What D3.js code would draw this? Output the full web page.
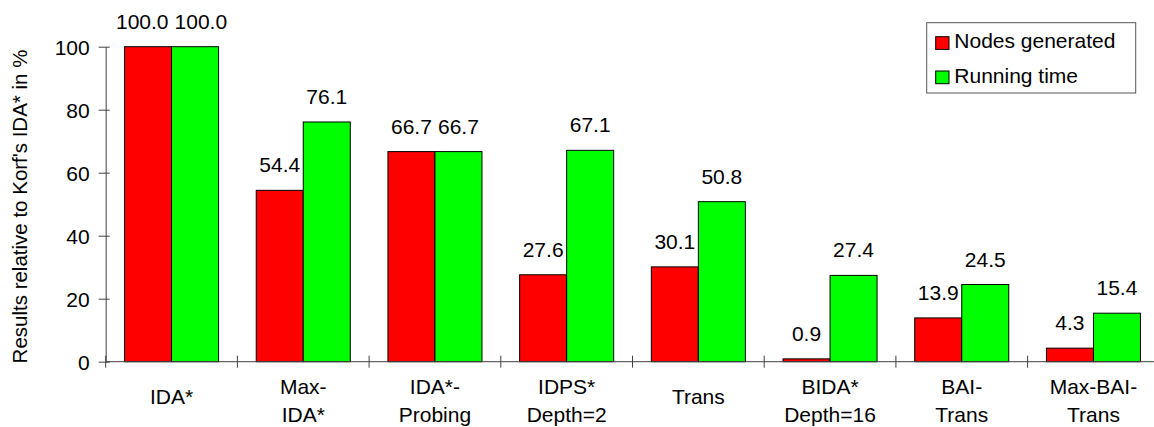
<!DOCTYPE html>
<html>
<head>
<meta charset="utf-8">
<script src="https://cdn.jsdelivr.net/npm/d3@7"></script>
<style>
  body { margin: 0; background: #fff; }
  svg { display: block; font-family: "Liberation Sans", Arial, sans-serif; }
</style>
</head>
<body>
<div id="chart"></div>
<script>
// categories (lines split on "|")
const categories = ["IDA*", "Max-|IDA*", "IDA*-|Probing", "IDPS*|Depth=2", "Trans", "BIDA*|Depth=16", "BAI-|Trans", "Max-BAI-|Trans"];
const nodesGenerated = [100.0, 54.4, 66.7, 27.6, 30.1, 0.9, 13.9, 4.3];
const runningTime = [100.0, 76.1, 66.7, 67.1, 50.8, 27.4, 24.5, 15.4];
const seriesNames = ["Nodes generated", "Running time"];
const seriesColors = ["#ff0000", "#00ff00"];
const yTicks = [0, 20, 40, 60, 80, 100];

const width = 1154, height = 427;
const x0 = 105.7, x1 = 1159.3, yBottom = 361.7, yTop = 46.7;
const fs = 21;

const svg = d3.select("#chart").append("svg")
  .attr("width", width)
  .attr("height", height);

const pad = 0.286;
const x = d3.scaleBand()
  .domain(categories)
  .range([x0, x1])
  .paddingInner(pad)
  .paddingOuter(pad / 2);

const xs = d3.scaleBand()
  .domain(seriesNames)
  .range([0, x.bandwidth()]);

const y = d3.scaleLinear()
  .domain([0, 100])
  .range([yBottom, yTop]);

const rows = categories.map((c, i) => ({
  cat: c,
  vals: [nodesGenerated[i], runningTime[i]]
}));

// bars
const groups = svg.append("g").selectAll("g")
  .data(rows)
  .join("g")
  .attr("transform", d => `translate(${x(d.cat)},0)`);

groups.selectAll("rect")
  .data(d => d.vals.map((v, j) => ({ v, j })))
  .join("rect")
  .attr("x", d => xs(seriesNames[d.j]))
  .attr("y", d => y(d.v))
  .attr("width", xs.bandwidth())
  .attr("height", d => y(0) - y(d.v))
  .attr("fill", d => seriesColors[d.j])
  .attr("stroke", "#000")
  .attr("stroke-width", 1);

groups.each(function(d) {
  const g = d3.select(this);
  const t = g.selectAll("text.val")
    .data(d.vals.map((v, j) => ({ v, j })))
    .join("text")
    .attr("class", "val")
    .attr("x", e => xs(seriesNames[e.j]) + xs.bandwidth() / 2)
    .attr("y", e => y(e.v) - 18)
    .attr("text-anchor", "middle")
    .attr("font-size", fs)
    .text(e => e.v.toFixed(1));
  // push apart labels that sit at the same height and collide
  const nodes = t.nodes();
  if (Math.abs(d.vals[0] - d.vals[1]) < 8) {
    const w0 = nodes[0].getComputedTextLength(), w1 = nodes[1].getComputedTextLength();
    const c0 = xs(seriesNames[0]) + xs.bandwidth() / 2, c1 = xs(seriesNames[1]) + xs.bandwidth() / 2;
    const overlap = (w0 + w1) / 2 + 6 - (c1 - c0);
    if (overlap > 0) {
      d3.select(nodes[0]).attr("x", c0 - overlap / 2);
      d3.select(nodes[1]).attr("x", c1 + overlap / 2);
    }
  }
});

// y axis
const yAxis = svg.append("g")
  .attr("transform", `translate(${x0},0)`)
  .call(d3.axisLeft(y).tickValues(yTicks).tickSize(0).tickPadding(16));
yAxis.select(".domain").attr("stroke", "#404040");
yAxis.selectAll(".tick line").attr("x1", -7).attr("x2", 4).attr("stroke", "#404040");
yAxis.selectAll(".tick text")
  .attr("font-size", fs)
  .attr("font-family", "Liberation Sans, Arial, sans-serif")
  .attr("fill", "#000")
  .attr("dy", "0.36em");

// x axis with boundary ticks
const step = x.step();
const bounds = categories.map(c => x(c) - step * x.paddingOuter()).concat([x1]);
const xAxis = svg.append("g");
xAxis.append("line")
  .attr("x1", x0).attr("x2", x1)
  .attr("y1", yBottom).attr("y2", yBottom)
  .attr("stroke", "#404040");
xAxis.selectAll("line.tk")
  .data(bounds)
  .join("line")
  .attr("class", "tk")
  .attr("x1", d => d).attr("x2", d => d)
  .attr("y1", yBottom - 6).attr("y2", yBottom + 6)
  .attr("stroke", "#404040");

const labels = svg.append("g").selectAll("text")
  .data(categories)
  .join("text")
  .attr("x", c => x(c) + x.bandwidth() / 2)
  .attr("text-anchor", "middle")
  .attr("font-size", fs);
labels.each(function(c) {
  const parts = c.split("|");
  const t = d3.select(this);
  const base = parts.length === 1 ? 404 : 394;
  parts.forEach((p, i) => {
    t.append("tspan")
      .attr("x", x(c) + x.bandwidth() / 2)
      .attr("y", base + i * 28)
      .text(p);
  });
});

// y label
svg.append("text")
  .attr("transform", `translate(27,206.5) rotate(-90)`)
  .attr("text-anchor", "middle")
  .attr("font-size", 20.5)
  .text("Results relative to Korf's IDA* in %");

// legend
const lg = svg.append("g");
lg.append("rect")
  .attr("x", 926.7).attr("y", 22.7)
  .attr("width", 209).attr("height", 70.3)
  .attr("fill", "#fff")
  .attr("stroke", "#555");
seriesNames.forEach((s, i) => {
  lg.append("rect")
    .attr("x", 935.7).attr("y", 36.7 + i * 34.3)
    .attr("width", 13.3).attr("height", 12.7)
    .attr("fill", seriesColors[i])
    .attr("stroke", "#000");
  lg.append("text")
    .attr("x", 954.3).attr("y", 47.5 + i * 35.5)
    .attr("font-size", fs)
    .text(s);
});
</script>
</body>
</html>
